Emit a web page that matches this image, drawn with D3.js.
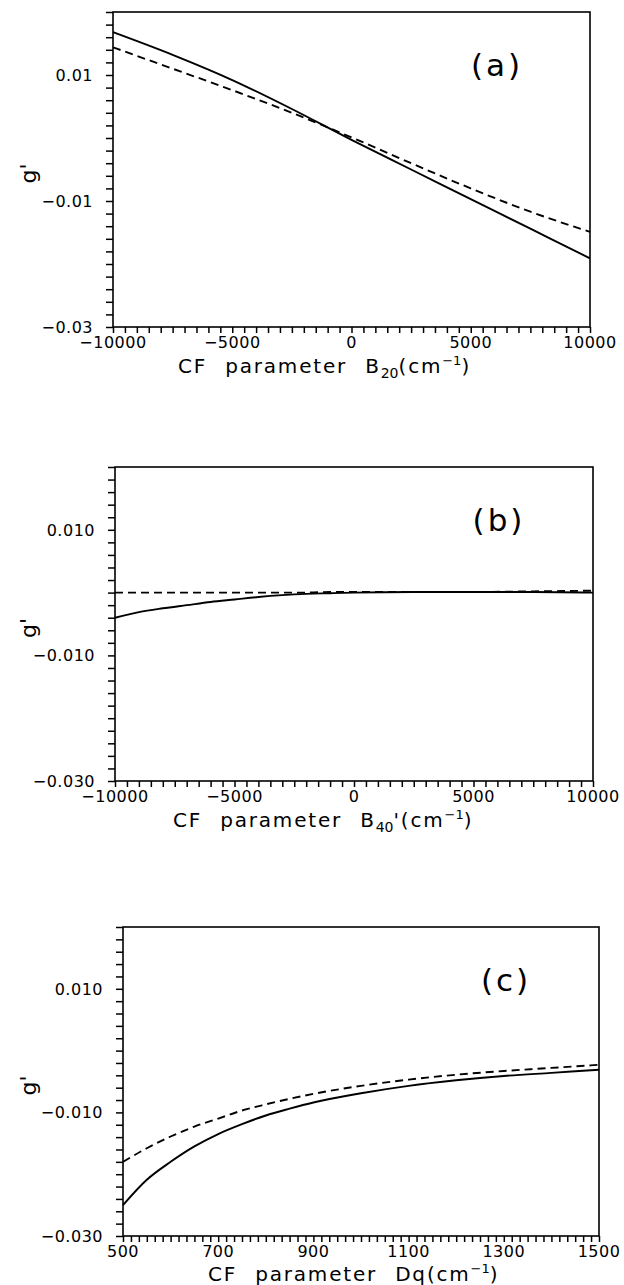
<!DOCTYPE html>
<html>
<head>
<meta charset="utf-8">
<script src="https://cdn.jsdelivr.net/npm/d3@7"></script>
<style>
  body { margin: 0; background: #fff; }
  svg { display: block; }
  text { font-family: "DejaVu Sans", sans-serif; fill: #000; }
  .tick-label { font-size: 16px; letter-spacing: 0.5px; }
  .axis-title { font-size: 20px; letter-spacing: 1.8px; word-spacing: 10px; }
  .y-title { font-size: 22px; }
  .panel-label { font-size: 31px; letter-spacing: 3px; }
</style>
</head>
<body>
<div id="chart"></div>
<script>
// ---- data ----
// panel (a): g' vs CF parameter B20 (cm^-1)
const b20Values = [-10000, -7500, -5000, -2500, 0, 2500, 5000, 7500, 10000];
const gSolidA = [0.0168, 0.0132, 0.0092, 0.0046, -0.0003, -0.0050, -0.0097, -0.0144, -0.0191];
const gDashedA = [0.0144, 0.0110, 0.0076, 0.0040, 0.0001, -0.0040, -0.0080, -0.0117, -0.0149];

// panel (b): g' vs CF parameter B40' (cm^-1)
const b40Values = [-10000, -9000, -8000, -7000, -6000, -5000, -4000, -3000, -2000, -1000, 0, 2500, 5000, 7500, 10000];
const gSolidB = [-0.0040, -0.0031, -0.0025, -0.0020, -0.0015, -0.0011, -0.0007, -0.0004, -0.0002, -0.0001, 0.0000, 0.0001, 0.0001, 0.0001, 0.0000];
const gDashedB = [0.0000, 0.0000, 0.0000, 0.0000, 0.0000, 0.0000, 0.0000, 0.0000, 0.0000, 0.0001, 0.0001, 0.0001, 0.0001, 0.0002, 0.0003];

// panel (c): g' vs CF parameter Dq (cm^-1)
const dqValues = [500, 550, 600, 650, 700, 750, 800, 850, 900, 1000, 1100, 1200, 1300, 1400, 1500];
const gSolidC = [-0.0250, -0.0209, -0.0180, -0.0155, -0.0135, -0.0119, -0.0105, -0.0094, -0.0084, -0.0069, -0.0057, -0.0048, -0.0041, -0.0036, -0.0031];
const gDashedC = [-0.0180, -0.0158, -0.0139, -0.0123, -0.0110, -0.0097, -0.0087, -0.0078, -0.0070, -0.0057, -0.0047, -0.0039, -0.0033, -0.0028, -0.0023];

// axis ticks
const yDomain = [-0.03, 0.02];
const yTickLabels = [0.01, -0.01, -0.03];
const bTickLabels = [-10000, -5000, 0, 5000, 10000];
const dqTickLabels = [500, 700, 900, 1100, 1300, 1500];

const width = 624, height = 1285;

const svg = d3.select("#chart").append("svg")
  .attr("width", width)
  .attr("height", height);

// panel layout (frame box in page pixels)
const panels = [
  {
    box: { left: 113, top: 12, right: 590, bottom: 327 },
    xs: b20Values, solid: gSolidA, dashed: gDashedA,
    xDomain: [-10000, 10000], xLabels: bTickLabels, xMinor: 500,
    yFormat: d3.format(".2f"),
    label: "(a)", labelPos: [497, 76],
    title: { x: 178, dy: 46, sub: "20", prime: false, name: "B" }
  },
  {
    box: { left: 115, top: 467, right: 593, bottom: 781 },
    xs: b40Values, solid: gSolidB, dashed: gDashedB,
    xDomain: [-10000, 10000], xLabels: bTickLabels, xMinor: 500,
    yFormat: d3.format(".3f"),
    label: "(b)", labelPos: [499, 531],
    title: { x: 173, dy: 46, sub: "40", prime: true, name: "B" }
  },
  {
    box: { left: 123, top: 927, right: 599, bottom: 1236 },
    xs: dqValues, solid: gSolidC, dashed: gDashedC,
    xDomain: [500, 1500], xLabels: dqTickLabels, xMinor: 1000 / 60,
    yFormat: d3.format(".3f"),
    label: "(c)", labelPos: [506, 991],
    title: { x: 208, dy: 45, sub: null, prime: false, name: "Dq" }
  }
];

panels.forEach(p => drawPanel(p));

function drawPanel(p) {
  const b = p.box;
  const x = d3.scaleLinear().domain(p.xDomain).range([b.left, b.right]);
  const y = d3.scaleLinear().domain(yDomain).range([b.bottom, b.top]);

  const g = svg.append("g");

  // frame
  g.append("rect")
    .attr("x", b.left).attr("y", b.top)
    .attr("width", b.right - b.left).attr("height", b.bottom - b.top)
    .attr("fill", "none").attr("stroke", "#000").attr("stroke-width", 1.6);

  // y axis: minor ticks every 0.002, labels on a few
  const yMinor = d3.range(-0.03, 0.02001, 0.002);
  const yAxis = d3.axisLeft(y).tickValues(yMinor).tickSize(7).tickFormat("");
  const yg = g.append("g").attr("transform", `translate(${b.left},0)`).call(yAxis);
  yg.select(".domain").remove();
  yg.selectAll("line").attr("stroke-width", 1.5);

  g.selectAll(".ylab")
    .data(yTickLabels)
    .enter()
    .append("text")
    .attr("class", "tick-label")
    .attr("x", b.left - 20)
    .attr("y", d => y(d))
    .attr("dy", "0.36em")
    .attr("text-anchor", "end")
    .text(d => p.yFormat(d).replace("-", "\u2212"));

  // x axis: minor ticks
  const n = Math.round((p.xDomain[1] - p.xDomain[0]) / p.xMinor);
  const xMinor = d3.range(0, n + 1).map(i => p.xDomain[0] + i * p.xMinor);
  const xAxis = d3.axisBottom(x).tickValues(xMinor).tickSize(6).tickFormat("");
  const xg = g.append("g").attr("transform", `translate(0,${b.bottom})`).call(xAxis);
  xg.select(".domain").remove();
  xg.selectAll("line").attr("stroke-width", 1.5);

  g.selectAll(".xlab")
    .data(p.xLabels)
    .enter()
    .append("text")
    .attr("class", "tick-label")
    .attr("x", d => x(d))
    .attr("y", b.bottom + 21)
    .attr("text-anchor", "middle")
    .text(d => String(d).replace("-", "\u2212"));

  // curves
  const line = d3.line()
    .x(d => x(d[0]))
    .y(d => y(d[1]))
    .curve(d3.curveMonotoneX);

  g.append("path")
    .datum(d3.zip(p.xs, p.solid))
    .attr("d", line)
    .attr("fill", "none")
    .attr("stroke", "#000")
    .attr("stroke-width", 1.9);

  g.append("path")
    .datum(d3.zip(p.xs, p.dashed))
    .attr("d", line)
    .attr("fill", "none")
    .attr("stroke", "#000")
    .attr("stroke-width", 1.9)
    .attr("stroke-dasharray", "8,5");

  // panel label
  g.append("text")
    .attr("class", "panel-label")
    .attr("x", p.labelPos[0])
    .attr("y", p.labelPos[1])
    .attr("text-anchor", "middle")
    .text(p.label);

  // y title g'
  const midY = (b.top + b.bottom) / 2;
  g.append("text")
    .attr("class", "y-title")
    .attr("transform", `translate(36,${midY + 4}) rotate(-90)`)
    .attr("text-anchor", "middle")
    .text("g'");

  // x title
  const t = g.append("text")
    .attr("class", "axis-title")
    .attr("x", p.title.x)
    .attr("y", b.bottom + p.title.dy)
    .attr("text-anchor", "start");
  t.append("tspan").text("CF parameter " + p.title.name);
  if (p.title.sub) {
    t.append("tspan").attr("font-size", 14).attr("dy", 5).attr("letter-spacing", 0).text(p.title.sub);
    t.append("tspan").attr("dy", -5).text(p.title.prime ? "'(cm" : "(cm");
  } else {
    t.append("tspan").text("(cm");
  }
  t.append("tspan").attr("font-size", 13).attr("dy", -8).attr("letter-spacing", 0).text("\u22121");
  t.append("tspan").attr("dy", 8).text(")");
}
</script>
</body>
</html>
